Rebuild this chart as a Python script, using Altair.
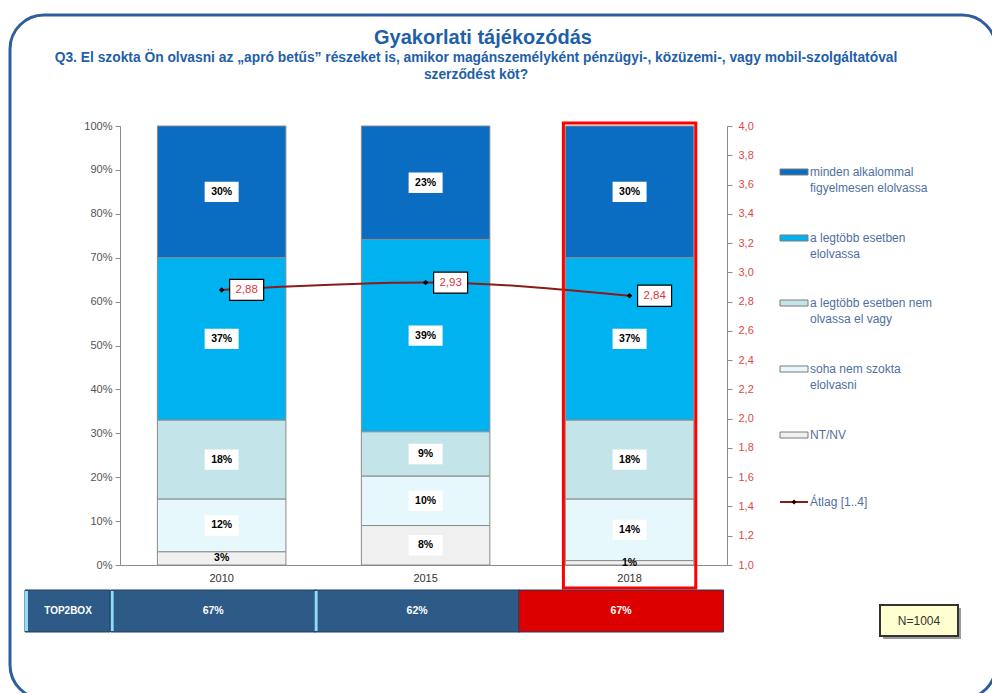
import altair as alt
import pandas as pd

# ---------------- data ----------------
years = ['2010', '2015', '2018']
series_names = [
    'minden alkalommal figyelmesen elolvassa',
    'a legtöbb esetben elolvassa',
    'a legtöbb esetben nem olvassa el vagy',
    'soha nem szokta elolvasni',
    'NT/NV',
]
legend_labels = [
    'minden alkalommal\nfigyelmesen elolvassa',
    'a legtöbb esetben\nelolvassa',
    'a legtöbb esetben nem\nolvassa el vagy',
    'soha nem szokta\nelolvasni',
    'NT/NV',
]
line_name = 'Átlag [1..4]'
minden = [30, 23, 30]
legtobb = [37, 39, 37]
legtobb_nem = [18, 9, 18]
soha = [12, 10, 14]
ntnv = [3, 8, 1]
atlag = [2.88, 2.93, 2.84]
top2box = [67, 62, 67]
n_text = 'N=1004'
title_text = 'Gyakorlati tájékozódás'
subtitle_lines = [
    'Q3. El szokta Ön olvasni az \u201eapró betűs\u201d részeket is, amikor magánszemélyként pénzügyi-, közüzemi-, vagy mobil-szolgáltatóval',
    'szerződést köt?',
]
series_colors = ['#0A6DC2', '#00B3F0', '#C3E5E9', '#E6F8FC', '#F0F0F0']
left_ticks = [0.0, 0.1, 0.2, 0.3, 0.4, 0.5, 0.6, 0.7, 0.8, 0.9, 1.0]
right_ticks = [1.0, 1.2, 1.4, 1.6, 1.8, 2.0, 2.2, 2.4, 2.6, 2.8, 3.0, 3.2, 3.4, 3.6, 3.8, 4.0]

# ---------------- tables ----------------
values_by_series = [minden, legtobb, legtobb_nem, soha, ntnv]
rows = []
for si, (name, vals) in enumerate(zip(series_names, values_by_series)):
    for yi, yr in enumerate(years):
        rows.append({'year': yr, 'series': name, 'value': vals[yi],
                     'order': len(series_names) - 1 - si})
df = pd.DataFrame(rows)
adf = pd.DataFrame({'year': years, 'atlag': atlag,
                    'lbl': [f'{v:.2f}'.replace('.', ',') for v in atlag]})
tdf = pd.DataFrame({'year': years, 't2b': [f'{v}%' for v in top2box]})
one = pd.DataFrame({'k': [0]})

W, H = 607, 439
SANS = 'Liberation Sans, Arial, sans-serif'
NARROW = 'Liberation Sans Narrow, Liberation Sans, sans-serif'
BLUE_T = '#1F5FA8'

x_enc = alt.X('year:N', sort=years,
              scale=alt.Scale(domain=years, paddingInner=0.37, paddingOuter=0.173, align=0.53),
              axis=alt.Axis(title=None, labelAngle=0, ticks=False, domainColor='#8c8c8c',
                            labelColor='#333333', labelFontSize=11, labelPadding=7,
                            labelFont=SANS))

yl_scale = alt.Scale(domain=[0, 1])
yl_axis = alt.Axis(format='.0%', values=left_ticks, grid=False, title=None, tickSize=5,
                   tickColor='#8c8c8c', domainColor='#8c8c8c', labelColor='#555555',
                   labelFontSize=11, labelPadding=3, labelFont=SANS)

base = alt.Chart(df).transform_stack(
    stack='value', groupby=['year'], as_=['lo', 'hi'], offset='normalize',
    sort=[alt.SortField('order', order='ascending')]
).transform_calculate(mid='(datum.lo + datum.hi) / 2', lbl="datum.value + '%'")

bars = base.mark_bar(stroke='#8a8a8a', strokeWidth=1).encode(
    x=x_enc,
    y=alt.Y('lo:Q', scale=yl_scale, axis=yl_axis),
    y2='hi:Q',
    fill=alt.Fill('series:N', scale=alt.Scale(domain=series_names, range=series_colors), legend=None),
)
box_path = 'M-1,-0.6H1V0.6H-1Z'
lbl_boxes = base.transform_filter('datum.value >= 5').mark_point(
    shape=box_path, size=34 * 34, filled=True, color='white', opacity=1, strokeWidth=0
).encode(x=x_enc, y=alt.Y('mid:Q', scale=yl_scale, axis=yl_axis))
lbl_text = base.mark_text(fontWeight='bold', fontSize=10.5, color='black', font=SANS).encode(
    x=x_enc, y=alt.Y('mid:Q', scale=yl_scale, axis=yl_axis), text='lbl:N')
left = alt.layer(bars, lbl_boxes, lbl_text)

yr_scale = alt.Scale(domain=[1, 4])
yr_axis = alt.Axis(orient='right', values=right_ticks, grid=False, title=None, tickSize=5,
                   tickColor='#8c8c8c', domainColor='#8c8c8c', labelColor='#E04848',
                   labelFontSize=11, labelPadding=6, labelFont=SANS,
                   labelExpr="replace(format(datum.value, '.1f'), '.', ',')")
ry = alt.Y('atlag:Q', scale=yr_scale, axis=yr_axis)
aline = alt.Chart(adf).mark_line(color='#8B1A1A', strokeWidth=2, interpolate='monotone').encode(x=x_enc, y=ry)
apts = alt.Chart(adf).mark_point(shape='diamond', filled=True, color='black', size=30, opacity=1).encode(x=x_enc, y=ry)
abox = alt.Chart(adf).mark_point(shape='M-1,-0.62H1V0.62H-1Z', size=34 * 34, filled=True, fill='white',
                                 stroke='black', strokeWidth=1.2, opacity=1, xOffset=25).encode(x=x_enc, y=ry)
atext = alt.Chart(adf).mark_text(color='#D9383F', fontSize=11.5, font=SANS, dx=25).encode(
    x=x_enc, y=ry, text='lbl:N')
right = alt.layer(aline, apts, abox, atext)

# highlight rectangle around 2018
hl = alt.Chart(tdf).transform_filter("datum.year == '2018'").mark_bar(
    fillOpacity=0, stroke='#FF0000', strokeWidth=3, width=alt.RelativeBandSize(1.03)
).encode(x=x_enc, y=alt.value(-3), y2=alt.value(462))

# TOP2BOX row
t2b_cells = alt.Chart(tdf).mark_bar(width=alt.RelativeBandSize(1.595), xOffset=-8.5,
                                    stroke='#1E3F63', strokeWidth=1).encode(
    x=x_enc, y=alt.value(464), y2=alt.value(506),
    fill=alt.condition("datum.year == '2018'", alt.value('#DD0000'), alt.value('#2D5A87')))
t2b_edge = alt.Chart(tdf).transform_filter("datum.year != '2018'").mark_bar(
    width=alt.RelativeBandSize(0.0233), xOffset=-109.5, color='#8FDDFA').encode(
    x=x_enc, y=alt.value(465), y2=alt.value(505))
t2b_text = alt.Chart(tdf).mark_text(color='white', fontWeight='bold', fontSize=10.5, font=SANS, xOffset=-8.5).encode(
    x=x_enc, y=alt.value(485), text='t2b:N')
t2b_label_cell = alt.Chart(one).mark_rect(fill='#2D5A87', stroke='#1E3F63', strokeWidth=1).encode(
    x=alt.value(-95), x2=alt.value(-10), y=alt.value(464), y2=alt.value(506))
t2b_label_edge = alt.Chart(one).mark_rect(fill='#8FDDFA').encode(
    x=alt.value(-95), x2=alt.value(-92), y=alt.value(465), y2=alt.value(505))
t2b_label = alt.Chart(one).mark_text(color='white', fontWeight='bold', fontSize=10, font=SANS).encode(
    x=alt.value(-52), y=alt.value(485), text=alt.value('TOP2BOX'))

# N box
n_shadow = alt.Chart(one).mark_rect(fill='#9a9a9a').encode(
    x=alt.value(763), x2=alt.value(841), y=alt.value(482), y2=alt.value(513))
n_box = alt.Chart(one).mark_rect(fill='#FFFFD0', stroke='#333333', strokeWidth=2).encode(
    x=alt.value(760), x2=alt.value(838), y=alt.value(479), y2=alt.value(510))
n_lbl = alt.Chart(one).mark_text(color='#333333', fontSize=12, font=SANS).encode(
    x=alt.value(799), y=alt.value(495), text=alt.value(n_text))

# frame and titles
frame = alt.Chart(one).mark_rect(fillOpacity=0, stroke='#2F5E9E', strokeWidth=3, cornerRadius=34).encode(
    x=alt.value(-110), x2=alt.value(876), y=alt.value(-111), y2=alt.value(573))
title = alt.Chart(one).mark_text(color=BLUE_T, fontSize=20, fontWeight='bold', font=NARROW).encode(
    x=alt.value(363), y=alt.value(-88), text=alt.value(title_text))
sub1 = alt.Chart(one).mark_text(color=BLUE_T, fontSize=13.8, fontWeight='bold', font=NARROW).encode(
    x=alt.value(356), y=alt.value(-68), text=alt.value(subtitle_lines[0]))
sub2 = alt.Chart(one).mark_text(color=BLUE_T, fontSize=13.8, fontWeight='bold', font=NARROW).encode(
    x=alt.value(356), y=alt.value(-51), text=alt.value(subtitle_lines[1]))

# legend
LEG_Y = [46, 112, 177, 243, 309, 376]
LEG_COLOR = '#4F6F9F'
legend_layers = []
for i, (lab, col) in enumerate(zip(legend_labels, series_colors)):
    yc = LEG_Y[i]
    legend_layers.append(alt.Chart(one).mark_rect(fill=col, stroke='#7a7a7a', strokeWidth=1).encode(
        x=alt.value(660), x2=alt.value(688), y=alt.value(yc - 3), y2=alt.value(yc + 3)))
    legend_layers.append(alt.Chart(one).mark_text(align='left', baseline='middle', color=LEG_COLOR,
                                                  fontSize=12, font=SANS, lineBreak='\n', lineHeight=15.5).encode(
        x=alt.value(690), y=alt.value(yc), text=alt.value(lab)))
yc = LEG_Y[5]
legend_layers.append(alt.Chart(one).mark_rule(color='#8B1A1A', strokeWidth=2).encode(
    x=alt.value(660), x2=alt.value(688), y=alt.value(yc)))
legend_layers.append(alt.Chart(one).mark_point(shape='diamond', filled=True, color='black', size=25, opacity=1).encode(
    x=alt.value(674), y=alt.value(yc)))
legend_layers.append(alt.Chart(one).mark_text(align='left', baseline='middle', color=LEG_COLOR,
                                              fontSize=12, font=SANS).encode(
    x=alt.value(690), y=alt.value(yc), text=alt.value(line_name)))

chart = alt.layer(
    frame, left, right, hl,
    t2b_cells, t2b_edge, t2b_text, t2b_label_cell, t2b_label_edge, t2b_label,
    n_shadow, n_box, n_lbl, title, sub1, sub2, *legend_layers
).resolve_scale(y='independent').properties(
    width=W, height=H,
    autosize=alt.AutoSizeParams(type='none'),
    padding={'left': 112, 'top': 118, 'right': 984 - 112 - W, 'bottom': 700 - 118 - H},
    background='white',
).configure_view(stroke=None)

chart.save('out.html', embed_options={'renderer': 'svg', 'actions': False})
